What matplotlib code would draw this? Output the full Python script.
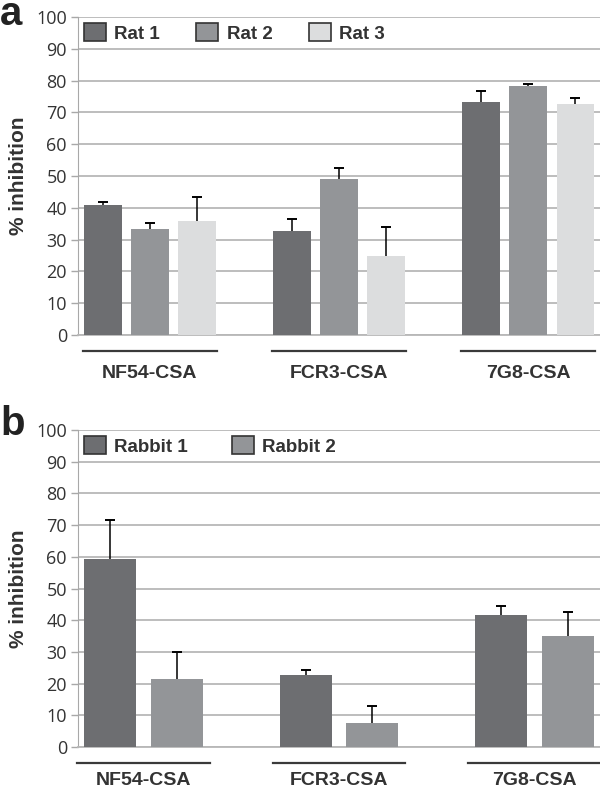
"""
Inhibition of CSA binding by rat and rabbit sera, two panels.
"""

import numpy as np
import matplotlib
matplotlib.use("Agg")
import matplotlib.pyplot as plt

groups = ["NF54-CSA", "FCR3-CSA", "7G8-CSA"]

# panel a - rats (mean, top of error bar)
rat_names = ["Rat 1", "Rat 2", "Rat 3"]
rat_mean = [[40.9, 32.7, 73.3],
            [33.2, 49.2, 78.3],
            [35.9, 24.8, 72.6]]
rat_top = [[41.9, 36.5, 76.7],
           [35.3, 52.6, 78.9],
           [43.3, 34.0, 74.5]]

# panel b - rabbits
rabbit_names = ["Rabbit 1", "Rabbit 2"]
rabbit_mean = [[59.3, 22.7, 41.6],
               [21.5, 7.6, 35.0]]
rabbit_top = [[71.6, 24.3, 44.5],
              [30.0, 12.9, 42.6]]

yticks = np.arange(0, 101, 10)

colors = ["#6d6e71", "#939598", "#dcddde"]
txt = "#333333"
grid_c = "#b8b8b8"
plt.rcParams["font.family"] = ["Liberation Sans", "DejaVu Sans"]

fig = plt.figure(figsize=(6, 7.91), dpi=100)
W, H = 600, 791


def panel(ax, names, means, tops, width, step, xlim, colspace, linehalf, label_y):
    x = np.arange(len(groups))
    n = len(names)
    for i in range(n):
        off = (i - (n - 1) / 2) * step
        m = np.array(means[i])
        t = np.array(tops[i])
        ax.bar(x + off, m, width, color=colors[i], zorder=3, label=names[i])
        # upper error bar only
        ax.vlines(x + off, m, t, color="black", lw=1.1, zorder=4)
        ax.plot(x + off, t, ls="none", marker="_", ms=7, mew=1.4, color="black", zorder=4)
    ax.set_ylim(0, 100)
    ax.set_xlim(*xlim)
    ax.set_yticks(yticks)
    ax.set_yticklabels([str(v) for v in yticks], family="Open Sans", fontsize=13, color=txt)
    ax.yaxis.grid(True, color=grid_c, lw=1.3, zorder=0)
    ax.set_axisbelow(True)
    ax.set_xticks([])
    for s in ["top", "right"]:
        ax.spines[s].set_visible(False)
    ax.spines["left"].set_color("#a8a8a8")
    ax.spines["bottom"].set_color(grid_c)
    ax.spines["bottom"].set_linewidth(1.3)
    ax.tick_params(axis="y", length=5, color="#a8a8a8", width=1, pad=3)
    ax.set_ylabel("% inhibition", fontsize=15, fontweight="bold", color=txt)
    ax.yaxis.set_label_coords(-0.095, 0.5)
    trans = ax.get_xaxis_transform()
    for xi, g in zip(x, groups):
        ax.plot([xi - linehalf, xi + linehalf], [-0.05, -0.05], color="#3a3a3a",
                lw=1.6, transform=trans, clip_on=False)
        ax.text(xi, label_y, g, transform=trans, ha="center", va="center",
                fontsize=14, fontweight="bold", color=txt)
    leg = ax.legend(loc="center left", bbox_to_anchor=(0.011, 0.95), ncol=n,
                    frameon=False, borderpad=0, borderaxespad=0,
                    handlelength=1.17, handleheight=1.1, handletextpad=0.45,
                    columnspacing=colspace, prop={"weight": "bold", "size": 13.5})
    for h in leg.legend_handles:
        h.set_edgecolor("#333333")
        h.set_linewidth(1.2)
    for t in leg.get_texts():
        t.set_color(txt)


ax1 = fig.add_axes([78 / W, 1 - 335 / H, 522 / W, 318 / H])
panel(ax1, rat_names, rat_mean, rat_top, 0.2, 0.25, (-0.38, 2.38), 1.95, 0.355, -0.12)

ax2 = fig.add_axes([78 / W, 1 - 747 / H, 522 / W, 317 / H])
panel(ax2, rabbit_names, rabbit_mean, rabbit_top, 0.266, 0.338, (-0.335, 2.335), 2.35, 0.34, -0.105)

fig.text(0.0, 1 - 25 / H, "a", fontsize=29, fontweight="bold", color="#222222", va="baseline")
fig.text(0.0, 1 - 435 / H, "b", fontsize=29, fontweight="bold", color="#222222", va="baseline")

fig.savefig("out.png", dpi=100)
